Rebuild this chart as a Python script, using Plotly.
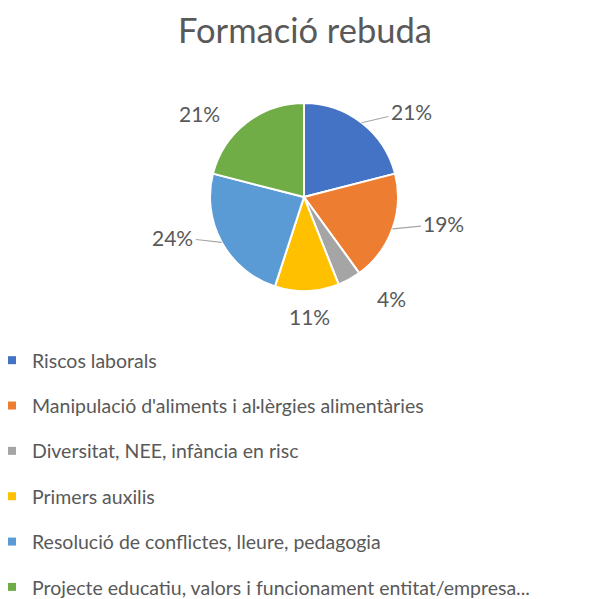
import math
import plotly.graph_objects as go

categories = [
    "Riscos laborals",
    "Manipulació d'aliments i al·lèrgies alimentàries",
    "Diversitat, NEE, infància en risc",
    "Primers auxilis",
    "Resolució de conflictes, lleure, pedagogia",
    "Projecte educatiu, valors i funcionament entitat/empresa...",
]
values = [21, 19, 4, 11, 24, 21]
colors = ["#4472C4", "#ED7D31", "#A5A5A5", "#FFC000", "#5B9BD5", "#70AD47"]
leader_lines = [True, True, False, False, True, False]
title_text = "Formació rebuda"

# the page body adds an 8px margin, so the figure is sized to fit the window
OFF = 8
W, H = 606 - OFF, 599 - OFF
FONT = "Lato"
TXT = "#595959"


def px_x(x):
    return (x - OFF) / W


def px_y(y):
    return 1 - (y - OFF) / H


# pie geometry (screen pixels)
cx, cy, R = 304, 197, 94

fig = go.Figure()
fig.add_trace(go.Pie(
    labels=categories, values=values, sort=False, direction="clockwise",
    rotation=0, textinfo="none", hoverinfo="label+percent",
    marker=dict(colors=colors, line=dict(color="white", width=2)),
    domain=dict(x=[px_x(cx - R), px_x(cx + R)], y=[px_y(cy + R), px_y(cy - R)]),
    showlegend=False,
))

# legend entries via placeholder traces (one group each for spacing)
for cat, col in zip(categories, colors):
    fig.add_trace(go.Scatter(
        x=[None], y=[None], mode="markers", name=cat, legendgroup=cat,
        marker=dict(symbol="square", size=8, color=col),
    ))

# data labels: best-fit style placement derived from each slice's mid-angle
total = sum(values)
cum = 0
annotations = []
for v, lead in zip(values, leader_lines):
    mid = (cum + v / 2) / total * 2 * math.pi
    cum += v
    rim_x = cx + R * math.sin(mid)
    rim_y = cy - R * math.cos(mid)
    ang = mid + math.radians(14) * math.sin(2 * mid)
    rl = 118 + 20 * abs(math.sin(ang)) + 5 * max(math.sin(ang), 0)
    lx = cx + rl * math.sin(ang)
    ly = cy - rl * math.cos(ang)
    label = f"{round(v / total * 100)}%"
    font = dict(family=FONT, size=21, color=TXT)
    if lead:
        annotations.append(dict(
            x=px_x(rim_x), y=px_y(rim_y), xref="paper", yref="paper",
            ax=lx - rim_x, ay=ly - rim_y, axref="pixel", ayref="pixel",
            text=label, showarrow=True, arrowhead=0, arrowwidth=1.2,
            arrowcolor="#A6A6A6", standoff=0, startstandoff=0,
            font=font, borderpad=2,
        ))
    else:
        annotations.append(dict(
            x=px_x(lx), y=px_y(ly), xref="paper", yref="paper",
            text=label, showarrow=False, font=font,
            xanchor="center", yanchor="middle",
        ))

fig.update_layout(
    width=W, height=H,
    margin=dict(l=0, r=0, t=0, b=0, autoexpand=False),
    paper_bgcolor="white", plot_bgcolor="white",
    title=dict(text=title_text, x=px_x(305), xanchor="center", y=px_y(31), yanchor="middle",
               yref="container", xref="container", font=dict(family=FONT, size=34.5, color=TXT)),
    xaxis=dict(visible=False), yaxis=dict(visible=False),
    legend=dict(
        x=-16 / W, y=1 - 333 / H, xanchor="left", yanchor="top",
        font=dict(family=FONT, size=19.5, color=TXT),
        tracegroupgap=17, traceorder="grouped", bgcolor="rgba(0,0,0,0)",
    ),
    annotations=annotations,
)

fig.write_html("out.html")
